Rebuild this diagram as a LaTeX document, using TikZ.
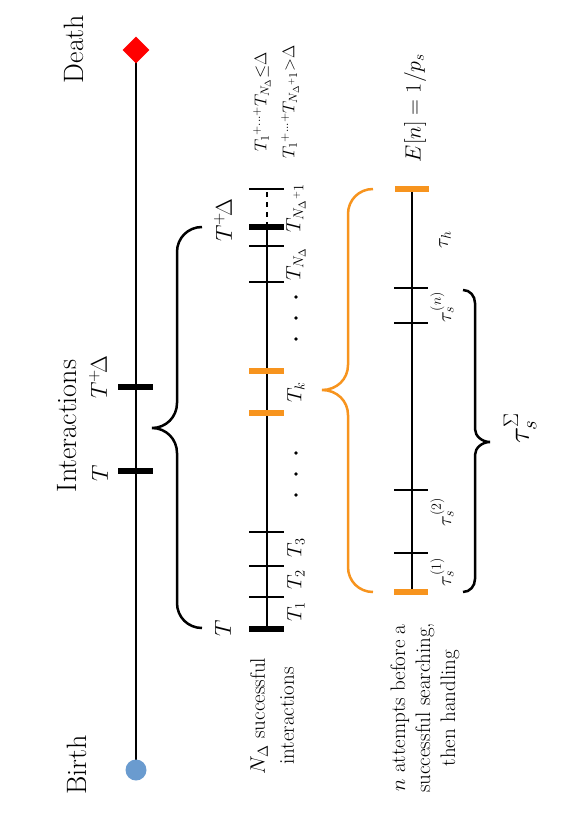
\RequirePackage{fix-cm}
\documentclass[tikz,border=0pt]{standalone}
\usepackage{amsmath}
\usetikzlibrary{shapes.geometric}
\definecolor{orng}{RGB}{247,148,30}
\definecolor{bluedot}{RGB}{106,155,207}
\begin{document}
\begin{tikzpicture}[x=1pt,y=-1pt,
  lab/.style={rotate=90,inner sep=0pt},
  big/.style={font=\fontsize{28}{31}\selectfont},
  mid/.style={font=\fontsize{23}{26}\selectfont},
  sml/.style={font=\fontsize{20.5}{24}\selectfont},
  tau/.style={font=\fontsize{20}{24}\selectfont},
  tl/.style={line width=2.5pt},
  thintick/.style={line width=1.2pt},
  thicktick/.style={line width=6pt},
  otick/.style={line width=6pt,orng},
  bracestyle/.style={line width=2.5pt},
]
\useasboundingbox (0,0) rectangle (579,819);

% main life line
\coordinate (death) at (136,50);
\coordinate (birth) at (136,770);
\draw[tl] (birth) -- (death);
\node[diamond,fill=red,minimum width=27pt,minimum height=27pt,inner sep=0pt] (dia) at (death) {};
\node[circle,fill=bluedot,minimum size=21pt,inner sep=0pt] (bdot) at (birth) {};
\draw[thicktick] (118,387) -- (153,387);
\draw[thicktick] (118,471) -- (153,471);
\node[lab,big] (lDeath) at (74,49) {Death};
\node[lab,big] (lBirth) at (77,765) {Birth};
\node[lab,big] (lInter) at (67,426) {Interactions};
\node[lab,mid] (lT) at (100,473) {$T$};
\node[lab,mid] (lTD) at (98,377) {$T^{+}\!\Delta$};

% big black brace
\draw[bracestyle] (202,227) .. controls (188,227) and (177,238) .. (177,252)
  -- (177,403) .. controls (177,417) and (166,428) .. (152,428)
  .. controls (166,428) and (177,439) .. (177,453)
  -- (177,603) .. controls (177,617) and (188,628) .. (202,628);

% second time line
\draw[tl] (267,629) -- (267,227);
\draw[tl,dash pattern=on 5pt off 5pt] (267,227) -- (267,189);
\foreach \yy in {597,566,532,282,246,189} \draw[thintick] (249,\yy) -- (284,\yy);
\draw[thicktick] (249,629) -- (284,629);
\draw[thicktick] (249,227) -- (284,227);
\draw[otick] (249,371) -- (284,371);
\draw[otick] (249,413) -- (284,413);
\node[lab,mid] (l2T) at (223,628) {$T$};
\node[lab,mid] (l2TD) at (223,220) {$T^{+}\!\Delta$};
\node[lab,sml] (lT1) at (296,612) {$T_1$};
\node[lab,sml] (lT2) at (296,580) {$T_2$};
\node[lab,sml] (lT3) at (296,548) {$T_3$};
\node[lab,sml] (lTk) at (296,392) {$T_k$};
\node[lab,sml] (lTN) at (296,264) {$T_{N_\Delta}$};
\node[lab,sml] (lTN1) at (296,208) {$T_{N_\Delta{}^{+}1}$};
\foreach \yy in {297,318,339,453,474,495} \fill (296,\yy) circle (1.8pt);
\node[lab,font=\fontsize{17}{28}\selectfont,align=center] (lsum) at (276,102)
  {$T_1{}^{+\ldots+}T_{N_\Delta}{\le}\Delta$\\$T_1{}^{+\ldots+}T_{N_\Delta{}^{+}1}{>}\Delta$};
\node[lab,font=\fontsize{21}{29}\selectfont,align=center] (lNd) at (272,716)
  {$N_\Delta$ successful\\interactions};

% orange brace
\draw[bracestyle,orng] (373,189) .. controls (359,189) and (348,200) .. (348,214)
  -- (348,365) .. controls (348,379) and (337,390) .. (322,390)
  .. controls (337,390) and (348,401) .. (348,415)
  -- (348,567) .. controls (348,581) and (359,592) .. (373,592);

% third time line
\draw[tl] (412,592) -- (412,189);
\foreach \yy in {288,323,490,553} \draw[thintick] (394,\yy) -- (428,\yy);
\draw[otick] (395,189) -- (429,189);
\draw[otick] (394,592) -- (428,592);
\node[lab,font=\fontsize{22}{26}\selectfont] (lEn) at (415,108) {$E[n]=1/p_s$};
\node[lab,tau] (lth) at (445,240) {$\tau_h$};
\node[lab,tau] (lsn) at (442,307) {$\tau_s^{(n)}$};
\node[lab,tau] (ls2) at (442,512) {$\tau_s^{(2)}$};
\node[lab,tau] (ls1) at (442,572) {$\tau_s^{(1)}$};
\node[lab,font=\fontsize{21}{25}\selectfont,align=center] (lnat) at (425,708)
  {$n$ attempts before a\\successful searching,\\then handling};

% right black brace
\draw[bracestyle] (463,290) .. controls (470,290) and (475,296) .. (475,303)
  -- (475,429) .. controls (475,436) and (482,442) .. (490,442)
  .. controls (482,442) and (475,448) .. (475,455)
  -- (475,579) .. controls (475,586) and (470,592) .. (463,592);
\node[lab,font=\fontsize{30}{34}\selectfont] (lsig) at (520,428) {$\tau_s^{\Sigma}$};
\end{tikzpicture}
\end{document}
